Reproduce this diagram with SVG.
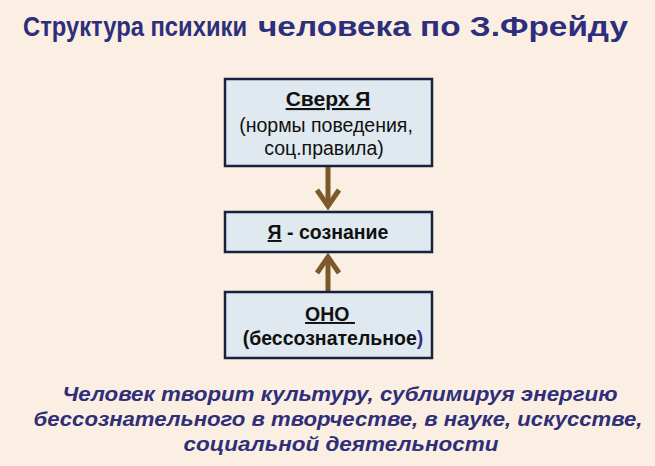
<svg xmlns="http://www.w3.org/2000/svg" width="655" height="466" viewBox="0 0 655 466">
<style>
.box{fill:#dfe9ef;stroke:#17223f;stroke-width:2.5}
.t{font-family:"Liberation Sans",Arial,sans-serif;fill:#111;text-anchor:middle}
.b{font-weight:bold}
.conn{stroke:#7a5a2a;stroke-width:5;fill:none}
.head{stroke:#7a5a2a;stroke-width:5;fill:none;stroke-linecap:butt;stroke-linejoin:miter}
.title{font-family:"Liberation Sans",Arial,sans-serif;font-weight:bold;fill:#2d2f7c}
.note{font-family:"Liberation Sans",Arial,sans-serif;font-weight:bold;font-style:italic;fill:#2e2f78;text-anchor:middle;font-size:20px}
</style>
<rect width="655" height="466" fill="#fbeee2"/>
<text class="title" y="36"><tspan x="23" font-size="27" textLength="224" lengthAdjust="spacingAndGlyphs">Структура  психики</tspan><tspan x="258" font-size="28" textLength="370" lengthAdjust="spacingAndGlyphs">человека по З.Фрейду</tspan></text>
<g id="connectors">
<line class="conn" x1="328" y1="167" x2="328" y2="206"/>
<polyline class="head" points="317,190 328,206 339,190"/>
<line class="conn" x1="328" y1="292" x2="328" y2="256"/>
<polyline class="head" points="317,273 328,257 339,273"/>
</g>
<g id="superego">
<rect class="box" x="225" y="79" width="207" height="87"/>
<text class="t b" x="328" y="106" font-size="21" text-decoration="underline">Сверх Я</text>
<text class="t" x="326" y="132" font-size="19.5">(нормы поведения,</text>
<text class="t" x="324" y="155" font-size="19.5">соц.правила)</text>
</g>
<g id="ego">
<rect class="box" x="225" y="212" width="207" height="40"/>
<text class="t b" x="328" y="239" font-size="19.5"><tspan text-decoration="underline">Я</tspan> - сознание</text>
</g>
<g id="id">
<rect class="box" x="225" y="292" width="207" height="66"/>
<text class="t b" x="330" y="321" font-size="19.5" text-decoration="underline">ОНО&#160;</text>
<text class="t b" x="333" y="345" font-size="19.5">(бессознательное<tspan fill="#2e3192">)</tspan></text>
</g>
<text class="note" x="340" y="401" textLength="555" lengthAdjust="spacingAndGlyphs">Человек творит культуру, сублимируя энергию</text>
<text class="note" x="338" y="426" textLength="609" lengthAdjust="spacingAndGlyphs">бессознательного в творчестве, в науке, искусстве,</text>
<text class="note" x="341" y="451" textLength="315" lengthAdjust="spacingAndGlyphs">социальной деятельности</text>
</svg>
